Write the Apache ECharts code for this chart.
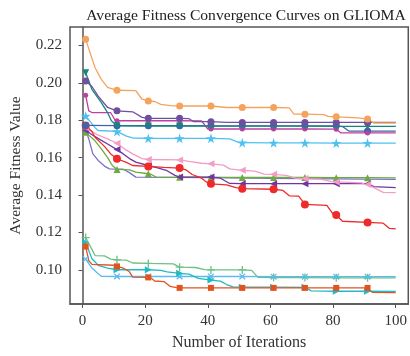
<!DOCTYPE html>
<html><head><meta charset="utf-8">
<script src="https://cdn.jsdelivr.net/npm/echarts@6/dist/echarts.min.js"></script>
<style>html,body{margin:0;padding:0;background:#fff}#c{width:410px;height:356px}</style>
</head><body><div id="c"></div>
<script>
var xTicks = [0, 20, 40, 60, 80, 100];
var yTicks = [0.10, 0.12, 0.14, 0.16, 0.18, 0.20, 0.22];
var markerIters = [1, 11, 21, 31, 41, 51, 61, 71, 81, 91];

var orange = [[1,0.2232],[4,0.2080],[6,0.2018],[8,0.1975],[11,0.1960],[17,0.1958],[19,0.1912],[21,0.1903],[23,0.1900],[25,0.1885],[28,0.1878],[31,0.1876],[41,0.1876],[46,0.1868],[51,0.1868],[61,0.1868],[66,0.1866],[67.5,0.1832],[71,0.1832],[77,0.1830],[78.5,0.1820],[81,0.1818],[88,0.1812],[91,0.1806],[93,0.1785],[100,0.1785]];
var purpleC = [[1,0.2009],[3,0.1980],[5,0.1929],[8,0.1868],[11,0.1850],[16,0.1845],[19,0.1815],[21,0.1810],[31,0.1810],[34,0.1808],[35.5,0.1792],[41,0.1792],[46,0.1788],[51,0.1788],[61,0.1788],[71,0.1788],[81,0.1788],[91,0.1788],[100,0.1788]];
var teal = [[1,0.2054],[3,0.1965],[6,0.1894],[8,0.1841],[9.2,0.1797],[11,0.1770],[21,0.1769],[31,0.1769],[41,0.1768],[51,0.1768],[61,0.1768],[71,0.1768],[81,0.1767],[91,0.1767],[100,0.1767]];
var magenta = [[1,0.1933],[2,0.1850],[3,0.1841],[9,0.1840],[10.5,0.1797],[11,0.1797],[21,0.1797],[31,0.1797],[38,0.1796],[40,0.1753],[41,0.1753],[51,0.1753],[61,0.1753],[71,0.1753],[81,0.1752],[82.5,0.1732],[91,0.1732],[100,0.1732]];
var blue = [[1,0.1772],[11,0.1771],[21,0.1771],[31,0.1771],[41,0.1770],[51,0.1770],[61,0.1770],[71,0.1770],[81,0.1770],[83,0.1766],[85,0.1742],[91,0.1742],[100,0.1742]];
var star = [[1,0.1823],[4,0.1760],[5,0.1745],[11,0.1740],[14,0.1715],[16,0.1705],[21,0.1703],[31,0.1703],[41,0.1703],[47,0.1700],[50,0.1680],[51,0.1680],[61,0.1679],[71,0.1679],[81,0.1678],[91,0.1678],[100,0.1678]];
var red = [[1,0.1772],[3,0.1740],[4,0.1709],[7,0.1660],[9,0.1620],[11,0.1594],[14,0.1575],[16,0.1558],[21,0.1553],[26,0.1548],[31,0.1544],[33,0.1535],[35,0.1510],[38,0.1490],[40,0.1465],[41,0.1460],[46,0.1455],[49,0.1440],[51,0.1434],[61,0.1431],[64,0.1425],[66,0.1396],[69,0.1394],[71,0.1350],[78,0.1345],[80,0.1298],[81,0.1293],[83,0.1260],[91,0.1254],[96,0.1250],[98,0.1222],[100,0.1219]];
var green = [[1,0.1735],[4,0.1690],[6,0.1647],[8,0.1600],[9.5,0.1558],[11,0.1537],[15,0.1535],[17,0.1523],[21,0.1514],[22,0.1510],[23.5,0.1496],[31,0.1495],[41,0.1495],[51,0.1494],[61,0.1494],[71,0.1494],[81,0.1493],[91,0.1493],[100,0.1492]];
var purpleT = [[1,0.1745],[4,0.1712],[8,0.1673],[11,0.1643],[13,0.1620],[15,0.1595],[17,0.1576],[21,0.1558],[24,0.1545],[27,0.1530],[29.5,0.1505],[31,0.1496],[41,0.1496],[44,0.1490],[47,0.1462],[51,0.1461],[61,0.1461],[71,0.1461],[81,0.1461],[91,0.1461],[93,0.1445],[100,0.1440]];
var pink = [[1,0.1760],[3,0.1740],[5,0.1720],[8,0.1700],[11,0.1677],[14,0.1640],[16,0.1620],[19,0.1595],[21,0.1590],[31,0.1588],[34,0.1580],[38,0.1570],[41,0.1567],[45,0.1560],[47,0.1540],[51,0.1532],[55,0.1528],[58,0.1512],[61,0.1511],[65,0.1505],[68,0.1490],[71,0.1488],[76,0.1485],[79.5,0.1472],[81,0.1470],[89,0.1465],[91,0.1456],[93,0.1440],[96,0.1414],[100,0.1413]];
var lavender = [[1,0.1750],[2,0.1700],[3.3,0.1620],[5,0.1585],[7,0.1555],[8.6,0.1540],[13,0.1538],[15,0.1520],[17,0.1496],[40,0.1494],[60,0.1490],[80,0.1487],[100,0.1484]];
var greenP = [[1,0.1173],[3,0.1110],[4,0.1077],[7,0.1075],[9,0.1058],[11,0.1054],[14,0.1052],[16,0.1037],[21,0.1035],[29,0.1032],[31,0.1015],[36,0.1013],[39,0.1002],[41,0.1000],[51,0.1000],[54,0.0998],[56,0.0960],[61,0.0959],[71,0.0959],[81,0.0958],[91,0.0958],[100,0.0958]];
var xblue = [[1,0.1058],[3,0.1010],[5,0.0980],[6,0.0966],[11,0.0965],[21,0.0965],[31,0.0965],[41,0.0965],[51,0.0965],[61,0.0964],[71,0.0964],[81,0.0964],[91,0.0964],[100,0.0964]];
var orangeRed = [[1,0.1125],[2,0.1050],[3,0.1030],[10,0.1025],[11,0.1019],[13,0.1010],[15,0.0990],[16,0.0962],[21,0.0960],[22,0.0955],[23,0.0941],[26,0.0938],[28,0.0912],[30,0.0906],[31,0.0904],[41,0.0904],[51,0.0904],[61,0.0904],[71,0.0904],[81,0.0904],[91,0.0904],[92.5,0.0880],[100,0.0879]];
var cyan = [[1,0.1146],[3,0.1060],[5,0.1025],[8,0.1010],[11,0.1001],[21,0.1001],[25,0.0998],[27,0.0990],[31,0.0982],[34,0.0978],[37,0.0955],[41,0.0946],[44,0.0940],[46,0.0922],[48,0.0910],[51,0.0908],[61,0.0908],[71,0.0907],[73,0.0888],[81,0.0886],[91,0.0886],[100,0.0885]];

var STAR = 'path://M50,0 L61,35 L98,35 L68,57 L79,91 L50,70 L21,91 L32,57 L2,35 L39,35 Z';
var PLUS = 'path://M42,0H58V42H100V58H58V100H42V58H0V42H42Z';

var styles = [
  {d: lavender, c:'#7A72C8', s:'none', z:7, r:0},
  {d: green, c:'#6DAB3F', s:'triangle', z:7, r:0},
  {d: purpleT, c:'#7334A2', s:'triangle', z:7, r:90},
  {d: pink, c:'#F49CC4', s:'triangle', z:7, r:90},
  {d: red, c:'#EE2A2A', s:'circle', z:8, r:0},
  {d: star, c:'#4FC1F0', s:STAR, z:10, r:0},
  {d: blue, c:'#3F63AE', s:'circle', z:7, r:0},
  {d: magenta, c:'#BF3FA0', s:'circle', z:5, r:0},
  {d: teal, c:'#14877C', s:'triangle', z:7, r:180},
  {d: purpleC, c:'#6F4FA0', s:'circle', z:7, r:0},
  {d: orange, c:'#F5A35C', s:'circle', z:7, r:0},
  {d: greenP, c:'#6CC184', s:PLUS, z:8, r:0},
  {d: xblue, c:'#5BBAF0', s:PLUS, z:8, r:45},
  {d: cyan, c:'#22BAC2', s:'triangle', z:7, r:-90},
  {d: orangeRed, c:'#E35320', s:'rect', z:6, r:0}
];

var series = styles.map(function (st) {
  return {
    type: 'line',
    showAllSymbol: true,
    symbolRotate: st.r,
    lineStyle: {color: st.c, width: 1.3},
    itemStyle: {color: st.c},
    animation: false,
    data: st.d.map(function (p) {
      var isM = markerIters.indexOf(p[0]) >= 0;
      return {value: p, symbol: isM ? st.s : 'none', symbolSize: isM ? st.z : 0};
    })
  };
});

var FONT = 'Liberation Serif';
var chart = echarts.init(document.getElementById('c'), null, {renderer: 'canvas'});
chart.setOption({
  backgroundColor: '#fff',
  animation: false,
  title: {
    text: 'Average Fitness Convergence Curves on GLIOMA',
    left: 241, top: 3, textAlign: 'center',
    textStyle: {fontFamily: FONT, fontSize: 15.6, fontWeight: 'normal', color: '#222'}
  },
  grid: {left: 70, top: 27, width: 343, height: 280, show: true, borderColor: '#555', borderWidth: 1.5, containLabel: false},
  xAxis: {
    type: 'value', min: -4, max: 104,
    name: 'Number of Iterations', nameLocation: 'middle', nameGap: 31,
    nameTextStyle: {fontFamily: FONT, fontSize: 16, color: '#333'},
    axisLine: {show: true, lineStyle: {color: '#555', width: 1.5}},
    axisTick: {show: true, customValues: xTicks, length: 4, lineStyle: {color: '#555'}},
    axisLabel: {customValues: xTicks, margin: 10, fontFamily: FONT, fontSize: 15, color: '#333'},
    splitLine: {show: false}
  },
  yAxis: {
    type: 'value', min: 0.0818, max: 0.2298,
    name: 'Average Fitness Value', nameLocation: 'middle', nameGap: 46,
    nameTextStyle: {fontFamily: FONT, fontSize: 15.5, color: '#333'},
    axisLine: {show: true, lineStyle: {color: '#555', width: 1.5}},
    axisTick: {show: true, customValues: yTicks, length: 4, lineStyle: {color: '#555'}},
    axisLabel: {customValues: yTicks, margin: 8, fontFamily: FONT, fontSize: 15, color: '#333',
      formatter: function (v) { return v.toFixed(2); }},
    splitLine: {show: false}
  },
  series: series
});
</script></body></html>
